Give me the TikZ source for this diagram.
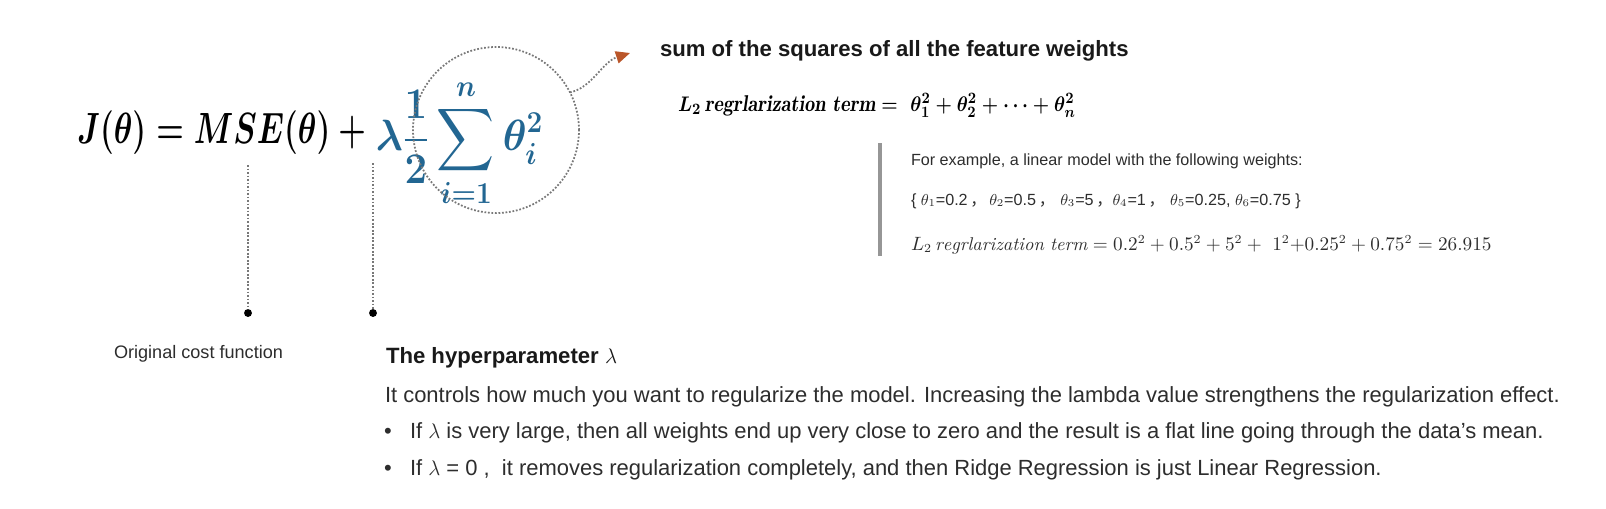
\documentclass[tikz,border=0pt]{standalone}
\usepackage{amsmath}
\usepackage{graphicx}
\usepackage{fontspec}
\setsansfont{Liberation Sans}
\newfontfamily\cjk{Noto Sans CJK SC}
\usetikzlibrary{arrows.meta, positioning, calc}
\definecolor{regblue}{RGB}{34,102,146}
\definecolor{tipbrown}{RGB}{186,86,42}
\definecolor{guidegray}{RGB}{120,120,120}
\definecolor{bodytone}{RGB}{45,45,45}
\definecolor{headtone}{RGB}{25,25,25}
\definecolor{bargray}{RGB}{150,150,150}

\begin{document}
\begin{tikzpicture}[
        x=0.02cm, y=-0.02cm,
        >=Stealth,
        every node/.style={inner sep=0pt, outer sep=0pt},
        bodytext/.style={anchor=base west, text=bodytone, font=\sffamily\fontsize{12.5}{14}\selectfont},
        smalltext/.style={anchor=base west, text=bodytone, font=\sffamily\fontsize{9.2}{11}\selectfont},
        headtext/.style={anchor=base west, text=headtone, font=\sffamily\bfseries\fontsize{12.6}{15}\selectfont},
        guide/.style={draw=guidegray, densely dotted, line width=1pt},
        pin/.style={circle, fill=black, minimum size=4.5pt}
    ]
        \useasboundingbox (0,0) rectangle (1606,508);

        % Cost function with the L2 penalty
        \node[anchor=base west, font=\fontsize{24}{28}\selectfont] (costfn) at (77,143)
            {\scalebox{0.72}[1]{\boldmath$\displaystyle J(\theta)=MSE(\theta)+{}$}};
        \node[anchor=base west, font=\fontsize{24}{28}\selectfont, right=1pt of costfn.base east] (penalty)
            {\scalebox{0.92}[1]{\boldmath$\displaystyle\color{regblue}\lambda\frac{1}{2}\sum_{i=1}^{n}\theta_i^2$}};
        \node[guide, circle, minimum size=3.32cm] (sumring) at (496,130) {};

        % Penalty explained
        \coordinate (tipend) at (630,53);
        \draw[guide, -{Triangle[color=tipbrown, length=8pt, width=7pt]}]
            (sumring.27) .. controls (592,88) and (602,62) .. (tipend);
        \node[headtext] (sumtitle) at (660,56) {sum of the squares of all the feature weights};
        \node[anchor=base west, font=\fontsize{13}{15}\selectfont] (l2def) at (678,111)
            {\scalebox{0.89}[1]{$\boldsymbol{L_2\,\mathit{regrlarization\ term} = \ \theta_1^2+\theta_2^2+\cdots+\theta_n^2}$}};

        % Worked example
        \coordinate (bartop) at (880,143);
        \coordinate (barbot) at (880,256);
        \draw[bargray, line width=2.4pt] (bartop) -- (barbot);
        \node[smalltext] (extitle) at (911,165) {For example, a linear model with the following weights:};
        \node[smalltext] (exweights) at (911,205)
            {\{ $\theta_1$=0.2\,{\cjk ，}\,$\theta_2$=0.5\,{\cjk ，}\,\,$\theta_3$=5\,{\cjk ，}$\theta_4$=1\,{\cjk ，}\,\,$\theta_5$=0.25, $\theta_6$=0.75 \}};
        \node[anchor=base west, text=bodytone, font=\fontsize{10.5}{12}\selectfont] (exsum) at (911,250)
            {$L_2\,\mathit{regrlarization\ term} = 0.2^2+0.5^2+5^2+\ 1^2{+}0.25^2+0.75^2=26.915$};

        % Guides down to the labels
        \coordinate (mseup) at (248,165);
        \coordinate (lamup) at (373,163);
        \node[pin] (msedot) at (248,313) {};
        \node[pin] (lamdot) at (373,313) {};
        \draw[guide] (mseup) -- (msedot);
        \draw[guide] (lamup) -- (lamdot);

        \node[anchor=base west, text=bodytone, font=\sffamily\fontsize{10.3}{12}\selectfont] (origlbl) at (114,358) {Original cost function};
        \node[headtext] (hyptitle) at (386,363) {The hyperparameter $\lambda$};
        \node[bodytext] (hypline) at (385,402) {It controls how much you want to regularize the model. Increasing the lambda value strengthens the regularization effect.};
        \node[bodytext] (bulA) at (384,438) {\textbullet};
        \node[bodytext] (bulAtext) at (410,438) {If $\lambda$ is very large, then all weights end up very close to zero and the result is a flat line going through the data's mean.};
        \node[bodytext] (bulB) at (384,475) {\textbullet};
        \node[bodytext] (bulBtext) at (410,475) {If $\lambda$ = 0 ,\ \ it removes regularization completely, and then Ridge Regression is just Linear Regression.};

    \end{tikzpicture}
\end{document}
